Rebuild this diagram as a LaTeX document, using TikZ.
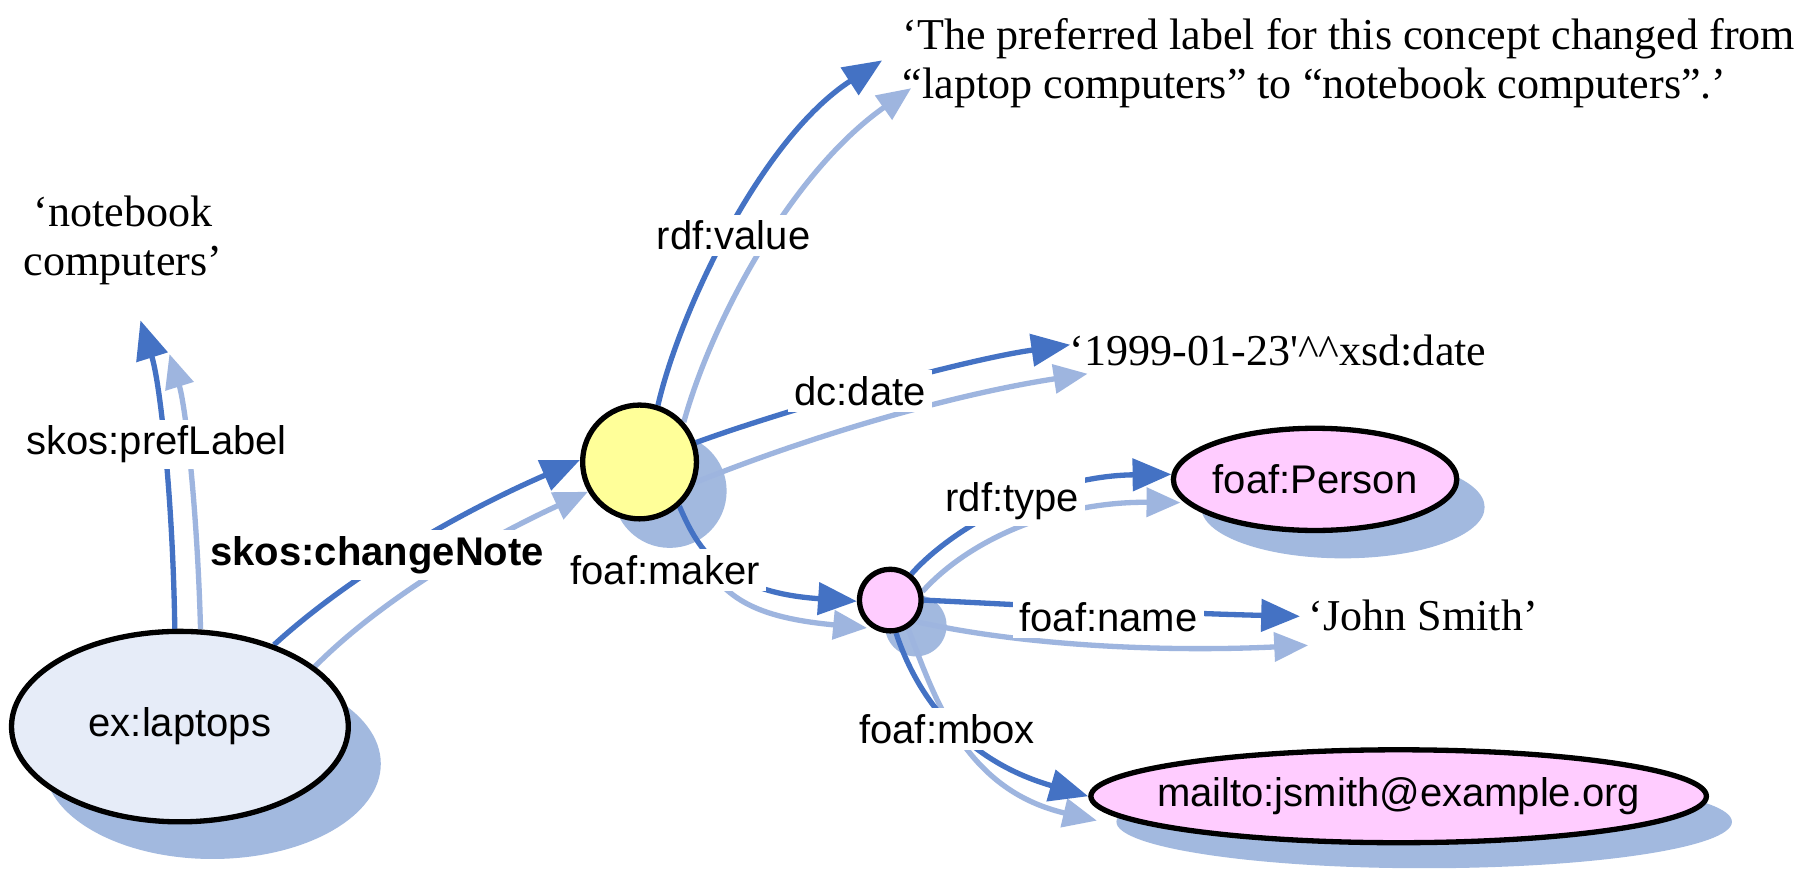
\documentclass[tikz,border=0pt]{standalone}
\usepackage{fontspec}
\newfontfamily\labfont{Liberation Sans}
\newfontfamily\litfont{Liberation Serif}
\usetikzlibrary{arrows.meta,shapes.geometric}
\definecolor{dk}{RGB}{68,114,196}
\definecolor{lt}{RGB}{158,181,223}
\definecolor{shd}{RGB}{162,185,223}
\definecolor{lapfill}{RGB}{230,236,248}
\definecolor{yel}{RGB}{255,255,153}
\definecolor{pnk}{RGB}{255,204,255}
\pgfdeclarelayer{shadowlayer}
\pgfdeclarelayer{edgelayer}
\pgfsetlayers{shadowlayer,edgelayer,main}
\begin{document}
\begin{tikzpicture}[x=0.01cm,y=-0.01cm,
  darr/.style={draw=dk, line width=1.3pt, -{Triangle[length=9.5pt,width=7.8pt]}},
  larr/.style={draw=lt, line width=1.3pt, -{Triangle[length=8.3pt,width=7pt]}},
  elab/.style={font=\labfont\fontsize{9.8}{11.8}\selectfont, fill=white, inner sep=1.5pt},
  ntext/.style={font=\labfont\fontsize{9.8}{11.8}\selectfont, inner sep=0pt},
  lit/.style={font=\litfont\fontsize{10.8}{12}\selectfont, inner sep=0pt},
  res/.style={draw=black, line width=1.3pt, ellipse, inner sep=0pt},
  blank/.style={draw=black, line width=1.3pt, circle, inner sep=0pt}
]
\useasboundingbox (0,0) rectangle (1568,748);

% ---------- nodes ----------
\node[res, fill=lapfill, minimum width=2.9cm, minimum height=1.64cm] (lap) at (155,626) {};
\node[ntext] (laptxt) at (lap.center) {ex:laptops};
\node[blank, fill=yel, minimum size=0.98cm] (cn) at (551,398) {};
\node[blank, fill=pnk, minimum size=0.53cm] (bn) at (767,517) {};
\node[res, fill=pnk, minimum width=2.44cm, minimum height=0.88cm] (per) at (1133,413) {};
\node[ntext] (pertxt) at (per.center) {foaf:Person};
\node[res, fill=pnk, minimum width=5.3cm, minimum height=0.8cm] (mail) at (1205,686) {};
\node[ntext] (mailtxt) at (mail.center) {mailto:jsmith@example.org};

\node[lit, align=center] (note) at (106,207) {‘notebook\\computers’};
\node[lit, align=left, anchor=west] (pref) at (777,54)
  {‘The preferred label for this concept changed from\\“laptop computers” to “notebook computers”.’};
\node[lit, anchor=west] (date) at (921,302) {‘1999-01-23'\char"005E\char"005E xsd:date};
\node[lit, anchor=west] (john) at (1127,530) {‘John Smith’};

% ---------- edge labels ----------
\node[elab] (l1) at (135,383) {skos:prefLabel};
\node[elab, font=\labfont\bfseries\fontsize{9.8}{11.8}\selectfont] (l2) at (325,478) {skos:changeNote};
\node[elab] (l3) at (632,203) {rdf:value};
\node[elab] (l4) at (741,337) {dc:date};
\node[elab] (l5) at (573,491) {foaf:maker};
\node[elab] (l6) at (872,432) {rdf:type};
\node[elab] (l7) at (955,532) {foaf:name};
\node[elab] (l8) at (816,628) {foaf:mbox};

% ---------- free ends ----------
\coordinate (plD) at (121,276);
\coordinate (plL) at (146,305);
\coordinate (vaD) at (760,52);
\coordinate (vaL) at (785,76);
\coordinate (dtD) at (922,297);
\coordinate (dtL) at (937,322);
\coordinate (mkLs) at (605,482);
\coordinate (mkL) at (747,541);
\coordinate (tyL) at (1017,433);
\coordinate (nmD) at (1120,531);
\coordinate (nmL) at (1127,556);
\coordinate (mbL) at (945,707);

% ---------- background and shadows ----------
\begin{pgfonlayer}{shadowlayer}
\fill[white] (0,0) rectangle (1568,748);
\fill[shd] ([shift={(28,32)}]lap.center) ellipse [x radius=1.45cm, y radius=0.82cm];
\fill[shd] ([shift={(26,25)}]cn.center) circle [radius=0.49cm];
\fill[shd] ([shift={(22,22)}]bn.center) circle [radius=0.265cm];
\fill[shd] ([shift={(24,24)}]per.center) ellipse [x radius=1.22cm, y radius=0.44cm];
\fill[shd] ([shift={(22,22)}]mail.center) ellipse [x radius=2.65cm, y radius=0.4cm];
\end{pgfonlayer}

% ---------- edges ----------
\begin{pgfonlayer}{edgelayer}
% skos:prefLabel
\draw[larr] (lap.78) .. controls (170,440) and (160,350) .. (plL);
\draw[darr] (lap.93) .. controls (149,430) and (138,330) .. (plD);
% skos:changeNote
\draw[larr] (lap.24) .. controls (323,522) and (404,471) .. (cn.210);
\draw[darr] (lap.41) .. controls (298,499) and (388,445) .. (cn.178);
% rdf:value
\draw[larr] (cn.42) .. controls (612,280) and (680,150) .. (vaL);
\draw[darr] (cn.72) .. controls (585,270) and (655,120) .. (vaD);
% dc:date
\draw[larr] (cn.-20) .. controls (700,375) and (820,340) .. (dtL);
\draw[darr] (cn.19) .. controls (680,352) and (830,310) .. (dtD);
% foaf:maker
\draw[larr] (mkLs) .. controls (625,515) and (650,532) .. (mkL);
\draw[darr] (cn.-48) .. controls (600,470) and (620,510) .. (bn.182);
% rdf:type
\draw[larr] (bn.15) .. controls (835,465) and (910,432) .. (tyL);
\draw[darr] (bn.51) .. controls (820,455) and (900,410) .. (per.178);
% foaf:name
\draw[larr] (bn.-40) .. controls (880,556) and (1000,562) .. (nmL);
\draw[darr] (bn.0) .. controls (900,522) and (1000,528) .. (nmD);
% foaf:mbox
\draw[larr] (bn.-58) .. controls (805,600) and (830,680) .. (mbL);
\draw[darr] (bn.-80) .. controls (790,600) and (830,655) .. (mail.west);
\end{pgfonlayer}
\end{tikzpicture}
\end{document}
